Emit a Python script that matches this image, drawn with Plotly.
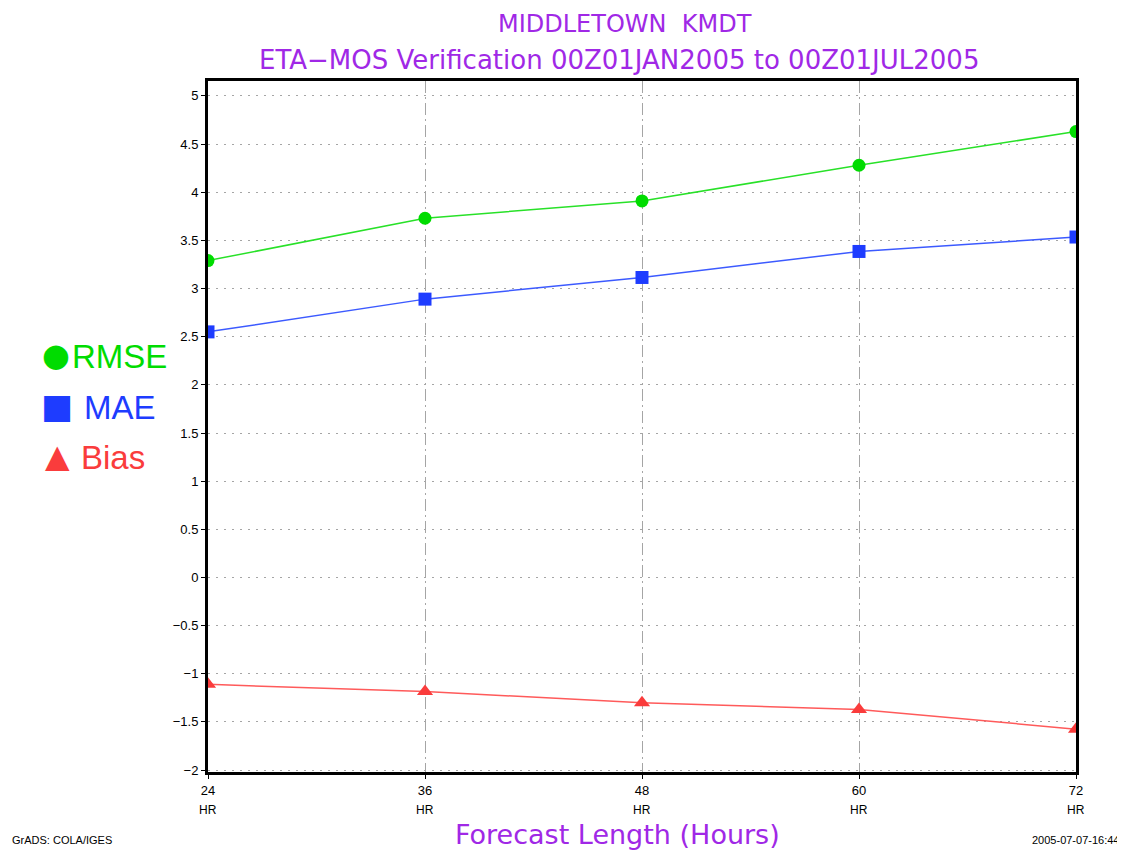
import plotly.graph_objects as go

hours = [24, 36, 48, 60, 72]
hour_labels = ["24", "36", "48", "60", "72"]
rmse = [3.29, 3.73, 3.91, 4.28, 4.63]
mae = [2.55, 2.89, 3.115, 3.385, 3.535]
bias = [-1.11, -1.185, -1.30, -1.37, -1.575]
ytick_vals = [-2, -1.5, -1, -0.5, 0, 0.5, 1, 1.5, 2, 2.5, 3, 3.5, 4, 4.5, 5]
ytick_text = [("%g" % v).replace("-", "\u2212") for v in ytick_vals]

# page body has an 8px margin; figure sized to fill the rest of the window
OFF = 8
W, H = 1125 - OFF, 851 - OFF
L = 208 - OFF
T = 81 - OFF
R = W - (1076 - OFF)
B = H - (772 - OFF)
PURPLE = "rgb(160,40,230)"
GREEN = "rgb(0,220,0)"
BLUE = "rgb(30,60,255)"
RED = "rgb(250,60,60)"

fig = go.Figure()
fig.add_trace(go.Scatter(x=hours, y=rmse, mode="lines+markers", name="RMSE",
                         line=dict(color="rgb(40,225,40)", width=1.5),
                         marker=dict(symbol="circle", size=13, color=GREEN)))
fig.add_trace(go.Scatter(x=hours, y=mae, mode="lines+markers", name="MAE",
                         line=dict(color="rgb(60,90,255)", width=1.5),
                         marker=dict(symbol="square", size=13, color=BLUE)))
fig.add_trace(go.Scatter(x=hours, y=bias, mode="lines+markers", name="Bias",
                         line=dict(color="rgb(255,90,90)", width=1.5),
                         marker=dict(symbol="triangle-up", size=14, color=RED)))

def px_y(py):
    return 1 - (py - OFF - T) / (H - T - B)

def px_x(px):
    return (px - OFF - L) / (W - L - R)

ann = []
ann.append(dict(text="MIDDLETOWN  KMDT", x=px_x(625), y=px_y(24), xref="paper", yref="paper",
                showarrow=False, font=dict(family="DejaVu Sans", size=24, color=PURPLE),
                xanchor="center", yanchor="middle"))
ann.append(dict(text="ETA\u2212MOS Verification 00Z01JAN2005 to 00Z01JUL2005", x=px_x(619), y=px_y(60),
                xref="paper", yref="paper", showarrow=False,
                font=dict(family="DejaVu Sans", size=26, color=PURPLE),
                xanchor="center", yanchor="middle"))
ann.append(dict(text="Forecast Length (Hours)", x=px_x(617), y=px_y(834), xref="paper", yref="paper",
                showarrow=False, font=dict(family="DejaVu Sans", size=27, color=PURPLE),
                xanchor="center", yanchor="middle"))
ann.append(dict(text="GrADS: COLA/IGES", x=px_x(10), y=px_y(840), xref="paper", yref="paper",
                showarrow=False, font=dict(family="Liberation Sans Narrow, Liberation Sans", size=11, color="black"),
                xanchor="left", yanchor="middle"))
ann.append(dict(text="2005-07-07-16:44", x=px_x(1121), y=px_y(840), xref="paper", yref="paper",
                showarrow=False, font=dict(family="Liberation Sans Narrow, Liberation Sans", size=11, color="black"),
                xanchor="right", yanchor="middle"))
for h in hours:
    ann.append(dict(text="HR", x=h, y=px_y(810), xref="x", yref="paper", showarrow=False,
                    font=dict(family="Liberation Sans Narrow, Liberation Sans", size=12, color="black"),
                    xanchor="center", yanchor="middle"))
# legend
leg = [("\u25cf", "RMSE", GREEN, 355, 70, 56, 32), ("\u25a0", "MAE", BLUE, 406, 82, 57, 34),
       ("\u25b2", "Bias", RED, 456, 79, 57, 32)]
for sym, txt, col, py, tx, sx, ss in leg:
    ann.append(dict(text=sym, x=px_x(sx), y=px_y(py), xref="paper", yref="paper", showarrow=False,
                    font=dict(family="DejaVu Sans", size=ss, color=col), xanchor="center", yanchor="middle"))
    ann.append(dict(text=txt, x=px_x(tx), y=px_y(py + 1), xref="paper", yref="paper", showarrow=False,
                    font=dict(family="Liberation Sans", size=33, color=col), xanchor="left", yanchor="middle"))

fig.update_layout(
    width=W, height=H,
    margin=dict(l=L, r=R, t=T, b=B),
    paper_bgcolor="white", plot_bgcolor="white",
    showlegend=False,
    annotations=ann,
    font=dict(family="Liberation Sans Narrow, Liberation Sans", size=12, color="black"),
)
fig.update_xaxes(range=[24, 72], tickvals=hours, ticktext=hour_labels,
                 showline=True, linewidth=3, linecolor="black", mirror=True,
                 showgrid=True, gridcolor="rgb(165,165,165)", gridwidth=1, griddash="12px,4px,2px,4px",
                 ticks="outside", ticklen=4, tickcolor="black", zeroline=False,
                 tickfont=dict(size=13))
fig.update_yaxes(range=[-2.02, 5.155], tickvals=ytick_vals, ticktext=ytick_text,
                 showline=True, linewidth=3, linecolor="black", mirror=True,
                 showgrid=True, gridcolor="rgb(165,165,165)", gridwidth=1, griddash="2px,6px",
                 ticks="outside", ticklen=4, tickcolor="black", zeroline=False,
                 tickfont=dict(size=13))

fig.write_html("out.html")
